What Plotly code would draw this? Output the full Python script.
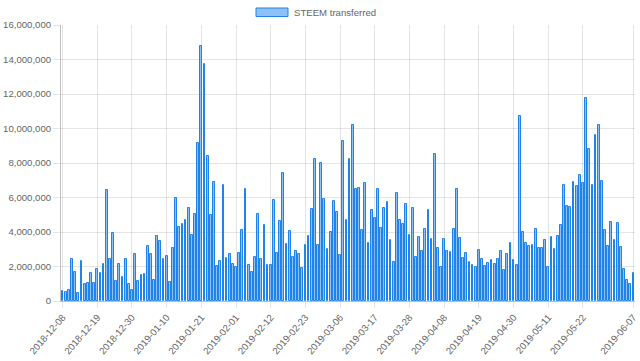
import pandas as pd
import plotly.graph_objects as go

# Daily categories
dates = [d.strftime("%Y-%m-%d") for d in pd.date_range("2018-12-08", "2019-06-07", freq="D")]

# STEEM transferred per day (millions)
values_m = [
    0.56, 0.54, 0.66, 2.45, 1.67, 0.45, 2.31, 0.99, 1.03, 1.61,
    1.05, 1.83, 1.65, 2.16, 6.45, 2.43, 3.96, 1.18, 2.12, 1.40,
    2.43, 1.01, 0.64, 2.74, 1.15, 1.53, 1.59, 3.18, 2.70, 1.24,
    3.77, 3.46, 2.41, 2.60, 1.09, 3.05, 6.00, 4.27, 4.49, 4.68,
    5.42, 3.81, 5.03, 9.18, 14.80, 13.73, 8.41, 5.01, 6.91, 2.02,
    2.31, 6.72, 2.50, 2.74, 2.17, 1.96, 2.80, 4.10, 6.49, 2.10,
    1.69, 2.54, 5.07, 2.41, 4.39, 2.10, 2.10, 5.83, 2.80, 4.62,
    7.42, 3.30, 4.04, 2.54, 2.89, 2.70, 1.90, 3.26, 3.75, 5.36,
    8.25, 3.22, 7.98, 5.90, 3.03, 3.98, 5.79, 5.18, 2.64, 9.26,
    4.68, 8.25, 10.19, 6.47, 6.58, 4.10, 6.82, 3.38, 5.30, 4.83,
    6.47, 4.25, 5.38, 5.75, 3.51, 2.29, 6.29, 4.72, 4.49, 5.63,
    3.83, 5.42, 2.58, 3.71, 2.87, 4.19, 5.30, 3.57, 8.50, 3.05,
    1.96, 3.59, 2.89, 2.82, 4.17, 6.49, 3.63, 2.49, 2.78, 2.29,
    2.06, 1.96, 2.97, 2.45, 2.02, 2.23, 2.35, 2.12, 2.43, 2.87,
    1.77, 2.72, 3.38, 2.35, 2.10, 10.74, 4.00, 3.36, 3.18, 3.26,
    4.19, 3.09, 3.09, 3.53, 1.96, 3.69, 3.03, 3.77, 4.41, 6.72,
    5.48, 5.44, 6.91, 6.66, 7.28, 6.83, 11.75, 8.83, 6.70, 9.65,
    10.19, 6.95, 4.10, 3.17, 4.56, 3.55, 4.50, 3.15, 1.84, 1.20,
    0.97, 1.63,
]
values = [v * 1_000_000 for v in values_m]

tick_labels = [
    "2018-12-08", "2018-12-19", "2018-12-30", "2019-01-10", "2019-01-21",
    "2019-02-01", "2019-02-12", "2019-02-23", "2019-03-06", "2019-03-17",
    "2019-03-28", "2019-04-08", "2019-04-19", "2019-04-30", "2019-05-11",
    "2019-05-22", "2019-06-07",
]
y_ticks = list(range(0, 16_000_001, 2_000_000))
series_name = "STEEM transferred"

border = "#1f84ea"
fill = "rgba(31,132,234,0.5)"
font = "Liberation Sans, Arial, Helvetica, sans-serif"
fs = 9.6

fig = go.Figure(go.Bar(
    x=dates, y=values, name=series_name, width=0.58,
    marker=dict(color=fill, line=dict(color=border, width=1)),
    showlegend=False,
))

fig.update_layout(
    width=640, height=361,
    margin=dict(l=61, r=5, t=25, b=60),
    paper_bgcolor="white", plot_bgcolor="white",
    font=dict(family=font, size=fs, color="#666"),
    bargap=0,
)
fig.update_xaxes(
    type="category", range=[-0.5, len(dates) - 0.5],
    tickmode="array", tickvals=tick_labels, ticktext=tick_labels,
    tickangle=-49, tickfont=dict(size=fs, color="#666"),
    showgrid=True, gridcolor="rgba(0,0,0,0.1)", gridwidth=1,
    ticks="outside", ticklen=6, tickcolor="rgba(0,0,0,0.1)",
    showline=True, linecolor="rgba(0,0,0,0.25)", linewidth=1,
    automargin=False, fixedrange=True,
)
fig.update_yaxes(
    range=[0, 16_000_000], tickmode="array", tickvals=y_ticks,
    tickformat=",d", tickfont=dict(size=fs, color="#666"),
    showgrid=True, gridcolor="rgba(0,0,0,0.1)", gridwidth=1,
    ticks="outside", ticklen=7, tickcolor="rgba(0,0,0,0.1)",
    showline=True, linecolor="rgba(0,0,0,0.25)", linewidth=1,
    zeroline=False, automargin=False, fixedrange=True,
)

# Chart.js-style legend box at top centre
pw, ph = 574.0, 276.0
fig.add_shape(type="rect", xref="paper", yref="paper",
              x0=(256 - 61) / pw, x1=(288 - 61) / pw,
              y0=1 + (25 - 16.5) / ph, y1=1 + (25 - 8) / ph,
              fillcolor=fill, line=dict(color=border, width=1))
fig.add_annotation(xref="paper", yref="paper", x=(292 - 61) / pw, y=1 + (25 - 12) / ph,
                   text=series_name, showarrow=False, xanchor="left", yanchor="middle",
                   font=dict(family=font, size=fs, color="#666"))

fig.write_html("out.html", config={"displayModeBar": False},
               post_script="document.body.style.margin='0';")
